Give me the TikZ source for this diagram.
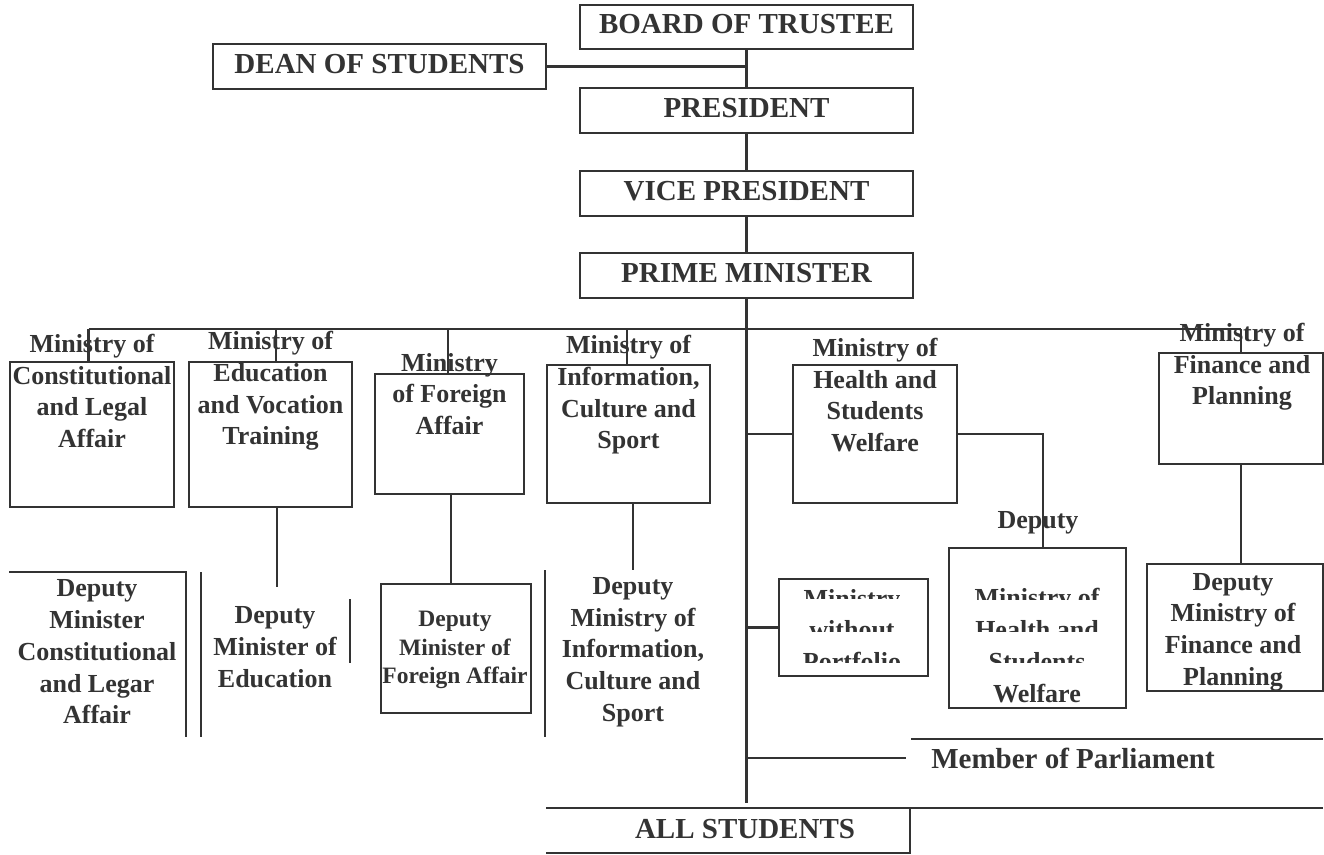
\documentclass[tikz,border=0pt]{standalone}
\usepackage{fontspec}
\setmainfont{Liberation Serif}
\definecolor{ink}{HTML}{333333}

\begin{document}
\begin{tikzpicture}[x=1pt, y=-1pt, color=ink, line width=2.2pt, box/.style={draw, fill=white, inner sep=0pt}, big/.style={font=\bfseries\fontsize{29}{34}\selectfont, inner sep=0pt, text height=19pt, text depth=6pt}, txt/.style={font=\bfseries\fontsize{26}{31.7}\selectfont, align=center, inner sep=0pt}, sml/.style={font=\bfseries\fontsize{23.5}{28.5}\selectfont, align=center, inner sep=0pt}, mask/.style={fill=white}, open/.style={line width=2.8pt}]
\useasboundingbox (0,0) rectangle (1324,854);
\node[box, big, minimum width=333, minimum height=44] (board) at (746.5,27) {BOARD OF TRUSTEE};
\node[box, big, minimum width=333, minimum height=45] (dean) at (379.5,66.5) {DEAN OF STUDENTS};
\node[box, big, minimum width=333, minimum height=45] (pres) at (746.5,110.5) {PRESIDENT};
\node[box, big, minimum width=333, minimum height=45] (vice) at (746.5,193.5) {VICE PRESIDENT};
\node[box, big, minimum width=333, minimum height=45] (prime) at (746.5,275.5) {PRIME MINISTER};
\node[box, minimum width=164, minimum height=145] (mcon) at (92,434.5) {};
\node[box, minimum width=163, minimum height=145] (medu) at (270.5,434.5) {};
\node[box, minimum width=149, minimum height=120] (mfor) at (449.5,434) {};
\node[box, minimum width=163, minimum height=138] (minf) at (628.5,434) {};
\node[box, minimum width=164, minimum height=138] (mhea) at (875,434) {};
\node[box, minimum width=164, minimum height=111] (mfin) at (1241,408.5) {};
\node[txt] (tcon) at (92,391) {Ministry of\\Constitutional\\and Legal\\Affair};
\node[txt] (tedu) at (270.5,391) {Ministry of\\Education\\and Vocation\\Training};
\node[txt] (tfor) at (449.5,394) {Ministry\\of Foreign\\Affair};
\node[txt] (tinf) at (628.5,395) {Ministry of\\Information,\\Culture and\\Sport};
\node[txt] (thea) at (875,395) {Ministry of\\Health and\\Students\\Welfare};
\node[txt] (tfin) at (1242,367) {Ministry of\\Finance and\\Planning};
\node[box, minimum width=150, minimum height=129] (dfor) at (456,648.5) {};
\node[box, minimum width=149, minimum height=97] (mpor) at (853.5,627.5) {};
\node[box, minimum width=177, minimum height=160] (dhea) at (1037.5,628) {};
\node[box, minimum width=176, minimum height=127] (dfin) at (1235,627.5) {};
\node[txt] (tdcon) at (97,652) {Deputy\\Minister\\Constitutional\\and Legar\\Affair};
\node[txt] (tdedu) at (275,647) {Deputy\\Minister of\\Education};
\node[sml] (tdfor) at (455,650) {Deputy\\Minister of\\Foreign Affair};
\node[txt] (tdinf) at (633,652) {Deputy\\Ministry of\\Information,\\Culture and\\Sport};
\node[txt] (tdep) at (1038,523) {Deputy};
\node[txt] (tdfin) at (1233,632) {Deputy\\Ministry of\\Finance and\\Planning};
\node[txt] (tpor) at (852,630) {Ministry\\without\\Portfolio};
\node[txt] (tdhea) at (1037,645.5) {Ministry of\\Health and\\Students\\Welfare};
\fill[mask] (788,599) rectangle (919,613); \fill[mask] (788,632) rectangle (919,646); \fill[mask] (788,663) rectangle (919,674);
\fill[mask] (958,600) rectangle (1117,614); \fill[mask] (958,632) rectangle (1117,646); \fill[mask] (958,663) rectangle (1117,677);
\node[big] (mp) at (1073,762) {Member of Parliament};
\node[big] (all) at (745,831.5) {ALL STUDENTS};
\coordinate (busl) at (88.5,329); \coordinate (busr) at (1241,329); \coordinate (bot) at (746.5,803);
\coordinate (eduend) at (277,587); \coordinate (infend) at (633,570); \coordinate (mpend) at (906,758);
\draw (board) -- (pres); \draw (pres) -- (vice); \draw (vice) -- (prime); \draw (prime) -- (bot);
\draw (dean) -- (dean -| board.south);
\draw (busl) -- (busr); \draw (busl) -- (busl |- mcon.north);
\draw ([xshift=5.5]medu.north) -- ([xshift=5.5]medu.north |- busl); \draw ([xshift=-1.5]mfor.north) -- ([xshift=-1.5]mfor.north |- busl); \draw ([xshift=-1.5]minf.north) -- ([xshift=-1.5]minf.north |- busl); \draw (busr) -- (mfin.north);
\draw ([xshift=6.5]medu.south) -- (eduend); \draw ([xshift=1.5]mfor.south) -- ([xshift=1.5]mfor.south |- dfor.north); \draw ([xshift=4.5]minf.south) -- (infend); \draw (mfin.south) -- (mfin.south |- dfin.north);
\draw (mhea.west -| bot) -- (mhea.west); \draw (mhea.east) -| ([xshift=5.5]dhea.north); \draw (mpor.west -| bot) -- (mpor.west); \draw (mpend -| bot) -- (mpend);
\draw[open] (9,572) -| (186,737); \draw[open] (201,572) -- (201,737); \draw[open] (350,599) -- (350,663); \draw[open] (545,570) -- (545,737);
\draw[open] (911,739) -- (1323,739); \draw[open] (546,808) -- (1323,808); \draw[open] (910,808) |- (546,853);
\end{tikzpicture}
\end{document}
